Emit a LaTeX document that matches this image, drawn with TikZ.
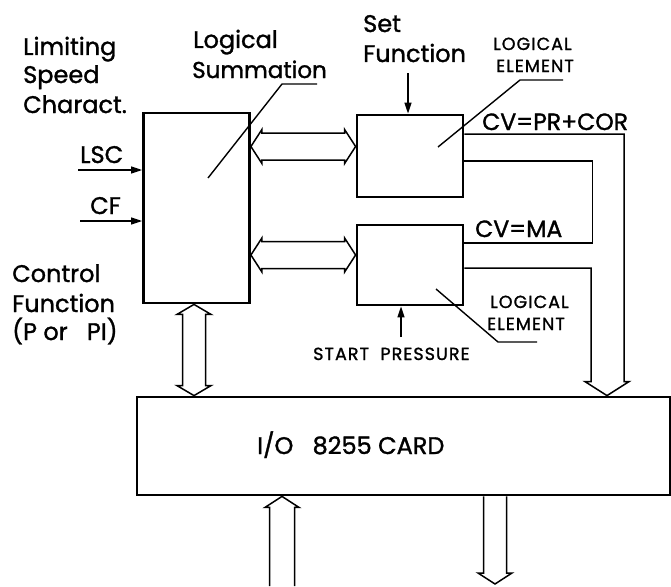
\documentclass[tikz,border=0pt]{standalone}
\usepackage{fontspec}
\setmainfont{Poppins}[FakeBold=1.3]
\newfontfamily\smallfam{Poppins}[FakeBold=1.3,LetterSpace=6]
\usetikzlibrary{arrows.meta,calc}
\newcommand{\dblH}[2]{\draw[hollow] (#1) -- ++(11,-17) -- ++(0,3.5) -- ($(#2)+(-11,-13.5)$) -- ++(0,-3.5) -- (#2) -- ++(-11,17) -- ++(0,-3.5) -- ($(#1)+(11,13.5)$) -- ++(0,3.5) -- cycle;}
\newcommand{\dblV}[2]{\draw[hollow] (#1) -- ++(17,10) -- ++(-5.5,0) -- ($(#2)+(11.5,-10)$) -- ++(5.5,0) -- (#2) -- ++(-17,-10) -- ++(5.5,0) -- ($(#1)+(-11.5,10)$) -- ++(-5.5,0) -- cycle;}
\begin{document}
\begin{tikzpicture}[x=1pt,y=-1pt,
  box/.style={draw,line width=2.8pt,inner sep=0pt,rectangle},
  thinln/.style={line width=1.4pt},
  hollow/.style={line width=1.5pt,line join=miter},
  lbl/.style={anchor=base west,inner sep=0pt,font=\fontsize{24}{28}\selectfont},
  cv/.style={anchor=base west,inner sep=0pt,font=\fontsize{23.5}{27}\selectfont},
  sml/.style={anchor=base west,inner sep=0pt,font=\smallfam\fontsize{17.5}{20}\selectfont},
  tipped/.style={-{Triangle[length=11pt,width=7pt]}}]
\useasboundingbox (0,0) rectangle (671,586);
% boxes
\node[box,minimum width=106pt,minimum height=190pt] (sum) at (196.5,208) {};
\node[box,minimum width=106pt,minimum height=82pt] (le1) at (410,156) {};
\node[box,minimum width=106pt,minimum height=80pt] (le2) at (410,265) {};
\node[box,minimum width=533pt,minimum height=98pt] (io) at (403.5,446) {};
% texts
\node[lbl] (t1) at (23,55) {Limiting};
\node[lbl] (t2) at (23,83) {Speed};
\node[lbl] (t3) at (23,113) {Charact.};
\node[lbl] (t4) at (193,48) {Logical};
\node[lbl,font=\fontsize{23}{27}\selectfont] (t5) at (192,78) {Summation};
\node[lbl] (t6) at (363,32) {Set};
\node[lbl] (t7) at (363,62) {Function};
\node[sml] (t8) at (493,50) {LOGICAL};
\node[sml] (t9) at (496,72) {ELEMENT};
\node[cv] (t10) at (482,130) {CV=PR+COR};
\node[lbl] (t11) at (80,163) {LSC};
\node[lbl] (t12) at (90,214) {CF};
\node[lbl] (t13) at (12,282) {Control};
\node[lbl] (t14) at (12,312) {Function};
\node[lbl] (t15) at (12,340) {(P or\ \ \ PI)};
\node[cv] (t16) at (475,237) {CV=MA};
\node[sml] (t17) at (490,308) {LOGICAL};
\node[sml] (t18) at (487,330) {ELEMENT};
\node[sml] (t19) at (313,360) {START\ \ PRESSURE};
\node[lbl] (t20) at (257,454) {I/O\ \ \ 8255\ CARD};
% hollow double arrows
\coordinate (a1r) at ([yshift=9.5pt]le1.west);
\coordinate (a1l) at (sum.east |- a1r);
\dblH{a1l}{a1r}
\coordinate (a2r) at ([yshift=10pt]le2.west);
\coordinate (a2l) at (sum.east |- a2r);
\dblH{a2l}{a2r}
\coordinate (v1) at ([xshift=-2.5pt]sum.south);
\coordinate (v2) at (v1 |- io.north);
\dblV{v1}{v2}
% bottom input arrow
\coordinate (inT) at ([xshift=-121.5pt]io.south);
\coordinate (inB) at (282,586);
\draw[hollow] ($(inB)+(-12.5,0)$) -- ($(inT)+(-12.5,11)$) -- ++(-4.5,0) -- (inT) -- ++(17,11) -- ++(-4.5,0) -- ($(inB)+(12.5,0)$);
% bottom output arrow
\coordinate (outT) at ([xshift=91.5pt]io.south);
\coordinate (outB) at (495,584);
\draw[hollow] ($(outT)+(-11.5,0)$) -- ($(outB)+(-11.5,-11)$) -- ++(-5.5,0) -- (outB) -- ++(17,-11) -- ++(-5.5,0) -- ($(outT)+(11.5,0)$);
% right merged arrow
\coordinate (rT) at ([xshift=203.5pt]io.north);
\coordinate (o1) at ([yshift=22pt]le1.east);
\coordinate (u1) at ([yshift=-5pt]le1.east);
\coordinate (u2) at ([yshift=22pt]le2.east);
\coordinate (o2) at ([yshift=-3pt]le2.east);
\draw[hollow] (o1) -| ($(rT)+(17,-14)$) -- ++(5,0) -- (rT) -- ++(-22,-14) -- ++(6,0) |- (o2);
\draw[hollow] (u1) -| ($(u2)+(128,0)$) -- (u2);
% thin arrows
\coordinate (sfT) at (408,73);
\draw[thinln,tipped] (sfT) -- ([xshift=-2pt]le1.north);
\coordinate (spB) at (401,337);
\draw[thinln,tipped] (spB) -- ([xshift=-9pt]le2.south);
\coordinate (lscS) at (78,170);
\draw[thinln,tipped] (lscS) -- (sum.west |- lscS);
\coordinate (cfS) at (80,221);
\draw[thinln,tipped] (cfS) -- (sum.west |- cfS);
% leaders
\coordinate (l1a) at (563,80); \coordinate (l1b) at (520,80); \coordinate (l1c) at (438,147);
\draw[thinln] (l1a) -- (l1b) -- (l1c);
\coordinate (l2a) at (317,84); \coordinate (l2b) at (282,84); \coordinate (l2c) at (208,178);
\draw[thinln] (l2a) -- (l2b) -- (l2c);
\coordinate (l3a) at (436,289); \coordinate (l3b) at (498,342); \coordinate (l3c) at (537,342);
\draw[thinln] (l3a) -- (l3b) -- (l3c);
\end{tikzpicture}
\end{document}
